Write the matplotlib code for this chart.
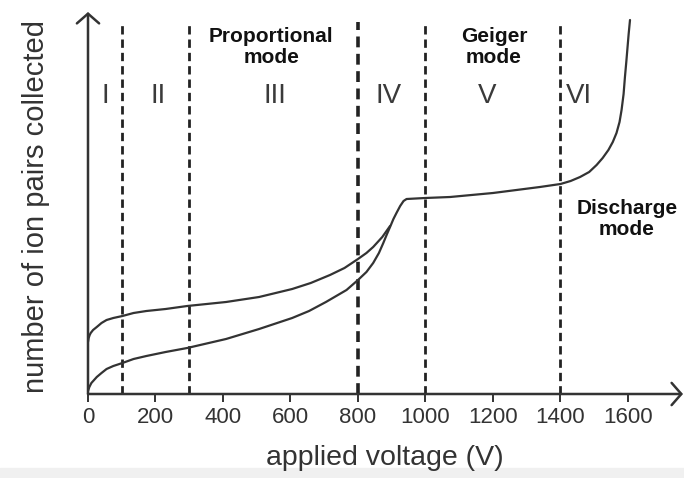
import matplotlib
matplotlib.use('Agg')
import matplotlib.pyplot as plt
from matplotlib.patches import FancyArrowPatch, Rectangle

plt.rcParams['font.family'] = ['Liberation Sans', 'DejaVu Sans']

# applied voltage (V) vs number of ion pairs (arbitrary units)
upper_v = [0, 2, 5, 8, 15, 26, 40, 55, 75, 102, 135, 173, 230, 294, 409, 507, 605, 660,
           717, 760, 800, 825, 845, 872, 895]
upper_n = [52, 56, 59, 61, 64, 67, 71, 74, 76, 78, 81, 83, 85, 88, 92, 97, 105, 111,
           119, 126, 135, 141, 147, 157, 168]

lower_v = [0, 4, 10, 18, 26, 40, 55, 75, 102, 135, 173, 230, 294, 409, 507, 605, 655, 705,
           766, 800, 825, 845, 862, 875, 886, 895, 905, 914, 925, 935, 944, 999, 1073,
           1200, 1339, 1400, 1430, 1458, 1485, 1507, 1525, 1542, 1555, 1566, 1575, 1581,
           1587, 1591, 1595, 1598, 1602, 1606]
lower_n = [3, 7, 11, 14, 17, 21, 25, 28, 31, 35, 38, 42, 46, 55, 65, 76, 83, 92,
           104, 114, 122, 131, 141, 151, 160, 167, 175, 181, 188, 193, 195, 196, 197,
           201, 207, 210, 213, 217, 222, 229, 236, 244, 252, 261, 272, 284,
           300, 317, 332, 344, 360, 374]

boundaries = [100, 300, 800, 1000, 1400]
region_names = ['I', 'II', 'III', 'IV', 'V', 'VI']
region_x = [50, 208, 554, 890, 1183, 1455]
xticks = [0, 200, 400, 600, 800, 1000, 1200, 1400, 1600]

ink = '#333333'

fig = plt.figure(figsize=(6.84, 4.78), dpi=100)
fig.patches.append(Rectangle((0, 0), 1, 10 / 478, transform=fig.transFigure,
                             color='#f0f0f0', zorder=-10))
ax = fig.add_axes([88 / 684, 84 / 478, 596 / 684, 394 / 478])
ax.set_xlim(0, 1766)
ax.set_ylim(0, 394)
ax.patch.set_alpha(0)
for s in ax.spines.values():
    s.set_visible(False)

# axes with open arrow heads
for tip in [(1763, 0), (0, 382)]:
    arr = FancyArrowPatch((0, 0), tip, arrowstyle='->,head_length=0.35,head_width=0.4',
                          mutation_scale=20, lw=1.8, color=ink, shrinkA=0, shrinkB=0,
                          clip_on=False, zorder=5)
    ax.add_patch(arr)

ax.set_xticks(xticks)
ax.set_xticklabels([str(t) for t in xticks])
ax.set_yticks([])
ax.tick_params(axis='x', direction='out', length=6, width=1.4, color=ink,
               labelsize=16, labelcolor=ink, pad=3.5)

# region boundaries
for b in boundaries:
    w = 2.6 if b == 800 else 2.0
    ax.plot([b, b], [0, 372], color='#222222', lw=w, linestyle=(0, (3.0, 1.8)),
            clip_on=False, zorder=3)

ax.plot(upper_v, upper_n, color=ink, lw=1.6, zorder=4, solid_capstyle='round',
        solid_joinstyle='round')
ax.plot(lower_v, lower_n, color=ink, lw=1.6, zorder=4, solid_capstyle='round',
        solid_joinstyle='round')

for name, x in zip(region_names, region_x):
    ax.text(x, 298, name, fontsize=20, color='#3a3a3a', ha='center', va='center')

ax.text(543, 347, 'Proportional\nmode', fontsize=15, fontweight='bold', color='#111111',
        ha='center', va='center', linespacing=1.1)
ax.text(1203, 347, 'Geiger\nmode', fontsize=15, fontweight='bold', color='#111111',
        ha='center', va='center', linespacing=1.1)
ax.text(1597, 175, 'Discharge\nmode', fontsize=15, fontweight='bold', color='#111111',
        ha='center', va='center', linespacing=1.1, clip_on=False)

fig.text(36 / 684, 1 - 206 / 478, 'number of ion pairs collected', rotation=90,
         fontsize=21, color=ink, ha='center', va='center')
fig.text(385 / 684, 13 / 478, 'applied voltage (V)', fontsize=20.5, color=ink,
         ha='center', va='baseline')

fig.savefig('out.png', dpi=100)
